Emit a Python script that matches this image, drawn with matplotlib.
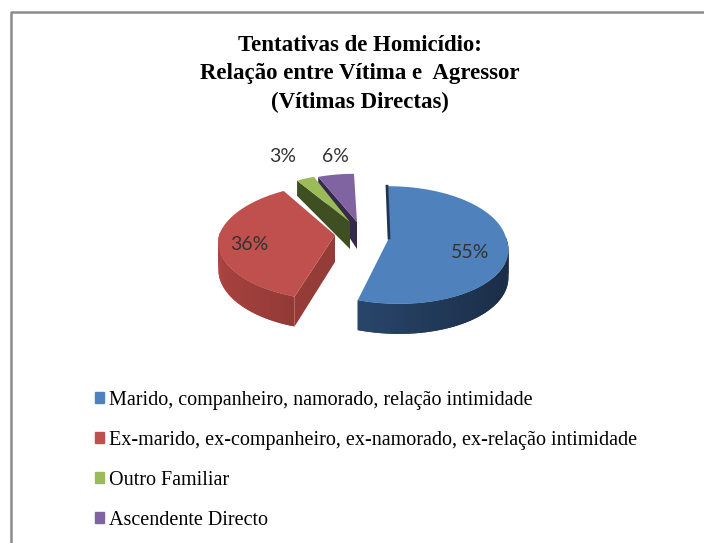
import numpy as np
import matplotlib
matplotlib.use("Agg")
import matplotlib.pyplot as plt
from matplotlib.colors import to_rgb

labels = ["Marido, companheiro, namorado, relação intimidade",
          "Ex-marido, ex-companheiro, ex-namorado, ex-relação intimidade",
          "Outro Familiar",
          "Ascendente Directo"]
values = [55, 36, 3, 6]
pct_labels = ["55%", "36%", "3%", "6%"]
title = "Tentativas de Homicídio:\nRelação entre Vítima e  Agressor\n(Vítimas Directas)"

colors = ["#4f81bd", "#c0504d", "#9bbb59", "#8064a2"]
wall_colors = ["#1f3552", "#953c39", "#3f4f22", "#352a4a"]
rim_light = ["#31547f", "#a8423f", "#5f7535", "#4d3c63"]
rim_dark = ["#1b2e48", "#7f3330", "#3f4f22", "#352a4a"]

# apex of each exploded slice, in picture pixels
apex = [(389, 238), (335, 235), (350, 222), (357, 222)]
radius_scale = [1, 0.99, 0.93, 0.93]
skew_front = [10, 0, 0, 0]
skew_back = [1, -6, 0, 3]
label_pos = [(470, 253), (249, 244), (283, 157), (335, 157)]

RX, RY, K = 117, 58, 0.12


def project(i, theta):
    # theta is clockwise from 12 o'clock, in degrees
    ax_, ay_ = apex[i]
    t = np.radians(theta)
    u, v = np.sin(t), -np.cos(t)
    s = radius_scale[i] / (1 - K * v)
    skew = np.where(v > 0, skew_front[i] * v, skew_back[i] * v)
    return ax_ + RX * u * s + skew, ay_ + RY * v * s, v


def depth(v):
    v = np.asarray(v, dtype=float)
    return np.where(v >= 0, 27 + 3 * v, 27 + 14 * v)


fig = plt.figure(figsize=(7.04, 5.43), dpi=100)
ax = fig.add_axes([0, 0, 1, 1])
ax.set_xlim(0, 704)
ax.set_ylim(543, 0)
ax.axis("off")

# chart frame, runs off the right and bottom of the picture
ax.plot([11, 11, 704], [543, 12, 12], color="#8c8c8c", lw=1.8)

ends = np.cumsum(values) / np.sum(values) * 360
starts = np.concatenate([[0], ends[:-1]])

# back slices first so the front ones sit on top
for i in [3, 2, 1, 0]:
    a, b = starts[i], ends[i]
    ax_, ay_ = apex[i]
    th = np.linspace(a, b, 120)
    xs, ys, vs = project(i, th)

    # outer rim, only the part facing the viewer
    for j in range(len(th) - 1):
        if 88 <= th[j] <= 272:
            k = min(j + 2, len(th) - 1)  # overlap so no seams show
            f = (xs[j] - (ax_ - RX)) / (2 * RX)
            f = np.clip(f if i == 0 else f * 1.6, 0, 1)
            c = (1 - f) * np.array(to_rgb(rim_light[i])) + f * np.array(to_rgb(rim_dark[i]))
            ax.fill([xs[j], xs[k], xs[k], xs[j]],
                    [ys[j], ys[k], ys[k] + depth(vs[k]), ys[j] + depth(vs[j])],
                    color=c, lw=0)

    # cut face
    if i == 0:
        ax.plot([xs[0] - 1, ax_], [ys[0], ay_], color=wall_colors[i], lw=2)
    else:
        ax.fill([ax_, xs[0], xs[0], ax_],
                [ay_, ys[0], ys[0] + depth(vs[0]), ay_ + depth(0)],
                color=wall_colors[i], lw=0)

    # top surface
    ax.fill(np.r_[ax_, xs], np.r_[ay_, ys], color=colors[i], lw=0)

for txt, (x, y) in zip(pct_labels, label_pos):
    ax.text(x, y, txt, ha="center", va="center", fontsize=14,
            family="Lato", color="#333333")

ax.text(360, 74, title, ha="center", va="center", fontsize=16.5,
        family="Liberation Serif", fontweight="bold", color="black",
        linespacing=1.47)

handles = [plt.Rectangle((0, 0), 1, 1, color=c) for c in colors]
ax.legend(handles, labels, loc="upper left", bbox_to_anchor=(95 / 704, 1 - 391 / 543),
          bbox_transform=fig.transFigure, frameon=False,
          prop={"family": "Liberation Serif", "size": 14.5},
          handlelength=0.45, handleheight=0.45, handletextpad=0.25,
          labelspacing=1.04, borderpad=0, borderaxespad=0)

fig.savefig("out.png", dpi=100)
